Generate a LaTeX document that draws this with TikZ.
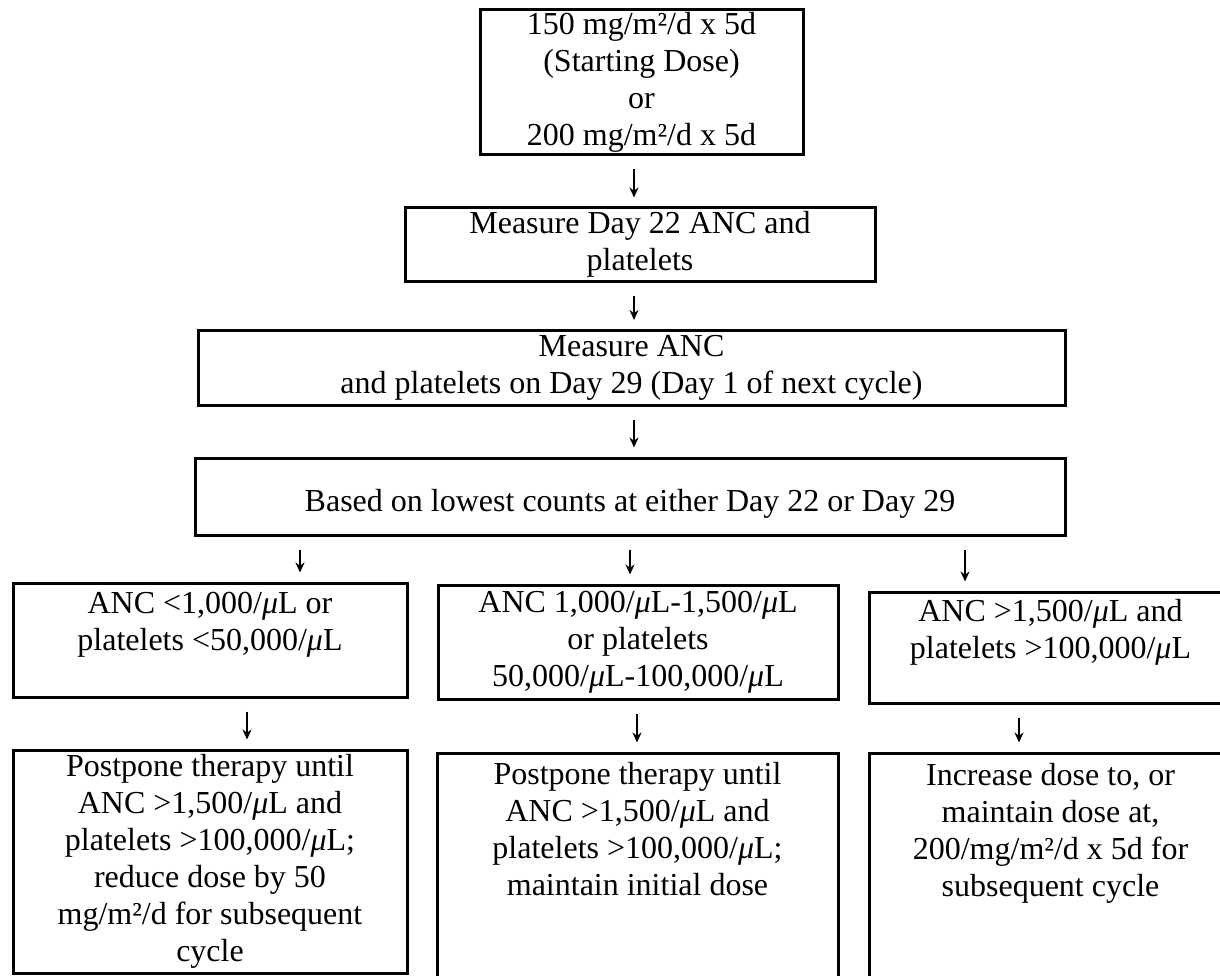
\documentclass[tikz,border=0pt]{standalone}
\usepackage{fontspec}
\setmainfont{Liberation Serif}
\usetikzlibrary{arrows.meta}
\newcommand{\uL}{\textit{μ}L}

\begin{document}
\begin{tikzpicture}[x=1pt, y=-1pt,
    box/.style={draw, line width=3pt, align=center, inner sep=0pt, font=\fontsize{32}{37}\selectfont},
    arr/.style={-{Stealth[length=10pt, width=9pt]}, line width=2.5pt, shorten <=13pt, shorten >=9pt}]
    \useasboundingbox (0,0) rectangle (1220,976);
    \clip (0,0) rectangle (1220,976);

    \node[box, minimum width=323pt, minimum height=145pt] (dose) at (641.5,82.5) {150 mg/m²/d x 5d\\(Starting Dose)\\or\\200 mg/m²/d x 5d};
    \node[box, minimum width=470pt, minimum height=73pt] (day22) at (640,244.5) {Measure Day 22 ANC and\\platelets};
    \node[box, minimum width=867pt, minimum height=75pt] (day29) at (631.5,368) {Measure ANC\\and platelets on Day 29 (Day 1 of next cycle)};
    \node[box, minimum width=870pt, minimum height=77pt] (based) at (630,496.5) {\mbox{}\\Based on lowest counts at either Day 22 or Day 29};

    \node[box, minimum width=394pt, minimum height=114pt] (ancLow) at (210,640) {ANC <1,000/\uL{} or\\platelets <50,000/\uL\\\mbox{}};
    \node[box, minimum width=400pt, minimum height=114pt] (ancMid) at (638,642) {ANC 1,000/\uL-1,500/\uL\\or platelets\\50,000/\uL-100,000/\uL};
    \node[box, minimum width=363pt, minimum height=111pt] (ancHigh) at (1050.5,647.5) {ANC >1,500/\uL{} and\\platelets >100,000/\uL\\\mbox{}};

    \node[box, minimum width=394pt, minimum height=223pt] (postLow) at (210,861.5) {Postpone therapy until\\ANC >1,500/\uL{} and\\platelets >100,000/\uL;\\reduce dose by 50\\mg/m²/d for subsequent\\cycle};
    \node[box, minimum width=401pt, minimum height=225pt] (postMid) at (637.5,865.5) {Postpone therapy until\\ANC >1,500/\uL{} and\\platelets >100,000/\uL;\\maintain initial dose\\\mbox{}\\\mbox{}};
    \node[box, minimum width=363pt, minimum height=227pt] (postHigh) at (1050.5,866.5) {Increase dose to, or\\maintain dose at,\\200/mg/m²/d x 5d for\\subsequent cycle\\\mbox{}\\\mbox{}};

    \coordinate (mid) at (634,0);
    \coordinate (brLow) at (300,0);
    \coordinate (brMid) at (630,0);
    \coordinate (brHigh) at (965,0);
    \coordinate (dnLow) at (247,0);
    \coordinate (dnMid) at (637,0);
    \coordinate (dnHigh) at (1019,0);

    \draw[arr] (dose.south -| mid) -- (mid |- day22.north);
    \draw[arr] (day22.south -| mid) -- (mid |- day29.north);
    \draw[arr] (day29.south -| mid) -- (mid |- based.north);

    \draw[arr] (based.south -| brLow) -- (brLow |- ancLow.north);
    \draw[arr] (based.south -| brMid) -- (brMid |- ancMid.north);
    \draw[arr] (based.south -| brHigh) -- (brHigh |- ancHigh.north);

    \draw[arr] (ancLow.south -| dnLow) -- (dnLow |- postLow.north);
    \draw[arr] (ancMid.south -| dnMid) -- (dnMid |- postMid.north);
    \draw[arr] (ancHigh.south -| dnHigh) -- (dnHigh |- postHigh.north);
\end{tikzpicture}
\end{document}
